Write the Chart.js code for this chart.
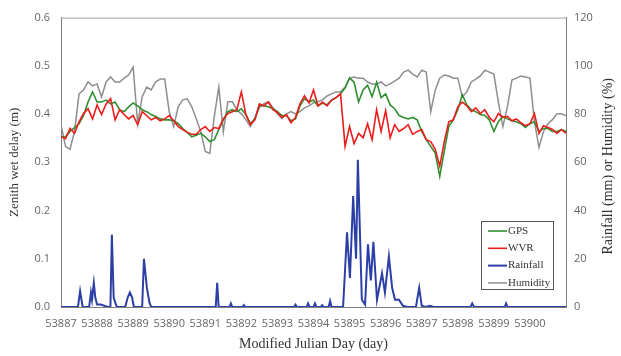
<!DOCTYPE html>
<html lang="en">
  <head>
    <meta charset="UTF-8" />
    <title>Zenith wet delay</title>
    <script src="https://cdn.jsdelivr.net/npm/chart.js@4.4.1/dist/chart.umd.min.js"></script>
    <style>
      body {
        margin: 0;
        background: #fff;
      }
      #wrap {
        width: 621px;
        height: 356px;
      }
    </style>
  </head>
  <body>
    <div id="wrap"><canvas id="myChart"></canvas></div>
    <script>
      // 3-hourly samples from MJD 53887 to 53901
      const startDay = 53887;
      const stepDay = 0.125;

      const gps = [
        0.353, 0.353, 0.364, 0.372, 0.380, 0.397, 0.425, 0.446, 0.425, 0.425,
        0.429, 0.421, 0.425, 0.409, 0.405, 0.415, 0.423, 0.417, 0.409, 0.405,
        0.399, 0.395, 0.390, 0.388, 0.388, 0.386, 0.380, 0.370, 0.362, 0.353,
        0.356, 0.360, 0.353, 0.343, 0.347, 0.368, 0.388, 0.405, 0.409, 0.405,
        0.411, 0.399, 0.380, 0.390, 0.419, 0.417, 0.415, 0.411, 0.405, 0.397,
        0.397, 0.386, 0.390, 0.417, 0.432, 0.425, 0.429, 0.417, 0.423, 0.419,
        0.429, 0.434, 0.442, 0.454, 0.475, 0.466, 0.425, 0.450, 0.460, 0.436,
        0.466, 0.434, 0.442, 0.419, 0.411, 0.397, 0.393, 0.390, 0.393, 0.388,
        0.364, 0.347, 0.333, 0.319, 0.271, 0.323, 0.374, 0.388, 0.409, 0.440,
        0.419, 0.409, 0.405, 0.399, 0.397, 0.388, 0.364, 0.384, 0.395, 0.390,
        0.386, 0.384, 0.380, 0.372, 0.380, 0.384, 0.364, 0.370, 0.370, 0.364,
        0.364, 0.368, 0.364
      ];

      const wvr = [
        0.353, 0.349, 0.370, 0.360, 0.384, 0.401, 0.411, 0.390, 0.419, 0.399,
        0.421, 0.432, 0.388, 0.409, 0.399, 0.390, 0.397, 0.378, 0.405, 0.397,
        0.388, 0.393, 0.386, 0.390, 0.397, 0.386, 0.374, 0.368, 0.362, 0.358,
        0.358, 0.368, 0.374, 0.364, 0.372, 0.370, 0.390, 0.401, 0.405, 0.409,
        0.446, 0.399, 0.378, 0.388, 0.421, 0.417, 0.425, 0.409, 0.403, 0.393,
        0.399, 0.382, 0.393, 0.421, 0.438, 0.423, 0.450, 0.417, 0.425, 0.417,
        0.429, 0.434, 0.442, 0.333, 0.374, 0.339, 0.360, 0.351, 0.380, 0.347,
        0.409, 0.364, 0.407, 0.351, 0.378, 0.364, 0.370, 0.378, 0.358, 0.364,
        0.368, 0.347, 0.343, 0.327, 0.292, 0.343, 0.384, 0.388, 0.415, 0.425,
        0.417, 0.405, 0.413, 0.401, 0.409, 0.393, 0.384, 0.401, 0.393, 0.395,
        0.386, 0.390, 0.382, 0.376, 0.380, 0.401, 0.360, 0.376, 0.372, 0.368,
        0.360, 0.368, 0.360
      ];

      const humidity = [
        75.6, 66.6, 65.4, 72.7, 88.4, 90.0, 93.3, 91.7, 92.5, 87.1,
        93.3, 95.4, 93.3, 93.3, 94.9, 96.2, 99.5, 76.0, 87.1, 91.2,
        90.0, 93.3, 94.5, 94.5, 81.0, 74.8, 83.0, 85.9, 86.3, 83.0,
        78.1, 72.7, 64.5, 63.7, 78.9, 91.2, 72.7, 85.1, 85.1, 81.8,
        80.1, 77.7, 74.8, 78.5, 82.6, 84.3, 85.1, 82.6, 80.1, 78.1,
        80.1, 81.0, 80.1, 81.0, 82.6, 83.4, 84.7, 85.1, 85.9, 87.5,
        88.4, 89.2, 89.2, 91.2, 94.9, 95.4, 94.9, 94.9, 93.3, 92.5,
        92.5, 93.3, 91.7, 92.5, 93.7, 94.9, 97.4, 98.2, 96.6, 95.4,
        98.2, 97.4, 81.0, 90.0, 94.9, 96.2, 95.8, 94.9, 94.9, 87.1,
        89.2, 93.3, 94.5, 95.8, 98.2, 97.4, 96.6, 85.1, 74.8, 83.0,
        94.1, 94.9, 95.8, 95.4, 94.9, 76.9, 66.2, 72.7, 76.0, 77.7,
        80.1, 80.1, 79.3
      ];

      // rainfall (mm), irregular times
      const rainDays = [
        53887.00, 53887.47, 53887.53, 53887.60, 53887.78, 53887.83, 53887.86,
        53887.91, 53887.95, 53888.00, 53888.10, 53888.20, 53888.30, 53888.37,
        53888.41, 53888.46, 53888.50, 53888.55, 53888.78, 53888.85, 53888.91,
        53888.97, 53889.02, 53889.25, 53889.30, 53889.38, 53889.45, 53889.50,
        53891.29, 53891.33, 53891.37, 53891.67, 53891.71, 53891.75, 53892.03,
        53892.07, 53892.11, 53893.46, 53893.50, 53893.54, 53893.81, 53893.85,
        53893.89, 53894.00, 53894.04, 53894.08, 53894.20, 53894.24, 53894.28,
        53894.42, 53894.46, 53894.50, 53894.82, 53894.93, 53895.01, 53895.10,
        53895.18, 53895.23, 53895.34, 53895.43, 53895.51, 53895.59, 53895.66,
        53895.76, 53895.90, 53895.98, 53896.09, 53896.18, 53896.26, 53896.37,
        53896.48, 53896.60, 53896.84, 53896.93, 53897.00, 53897.10, 53897.23,
        53897.33, 53898.35, 53898.40, 53898.45, 53899.30, 53899.34, 53899.38,
        53901.00
      ];
      const rainMm = [
        0, 0, 6.6, 0, 0, 6, 3,
        10, 4, 1, 1, 0.5, 0, 0,
        30, 4, 2, 0, 0, 4, 6,
        4, 0, 0, 20, 8, 2, 0,
        0, 10, 0, 0, 1.5, 0, 0,
        0.8, 0, 0, 1, 0, 0, 1.5,
        0, 0, 1.5, 0, 0, 0.8, 0,
        0, 2.5, 0, 0, 31, 12, 46,
        20, 61, 3, 1, 26, 11, 27,
        3, 14, 6, 21, 8, 3, 3,
        0.5, 0, 0, 8, 0.5, 0, 0.5,
        0, 0, 1.5, 0, 0, 1.5, 0,
        0
      ];

      const dayTicks = [53887, 53888, 53889, 53890, 53891, 53892, 53893,
        53894, 53895, 53896, 53897, 53898, 53899, 53900];

      const rightTitle = "Rainfall (mm) or Humidity (%)";

      const series = (vals) =>
        vals.map((v, i) => ({ x: startDay + i * stepDay, y: v }));
      const rainPts = rainDays.map((d, i) => ({ x: d, y: rainMm[i] }));

      const tickFont = { family: "'Open Sans', sans-serif", size: 11 };
      const titleFont = { family: "'Liberation Serif', serif", size: 14 };

      // top frame line, right title (reads upward) and legend box
      const framePlugin = {
        id: "frame",
        afterDraw(chart) {
          const { ctx, chartArea: a } = chart;
          ctx.save();
          ctx.strokeStyle = "#a0a0a0";
          ctx.lineWidth = 1;
          ctx.beginPath();
          ctx.moveTo(a.left, a.top + 0.5);
          ctx.lineTo(a.right, a.top + 0.5);
          ctx.stroke();

          ctx.save();
          ctx.translate(chart.width - 13, (a.top + a.bottom) / 2 + 4);
          ctx.rotate(-Math.PI / 2);
          ctx.font = "14px 'Liberation Serif', serif";
          ctx.fillStyle = "#333";
          ctx.textAlign = "center";
          ctx.textBaseline = "middle";
          ctx.fillText(rightTitle, 0, 0);
          ctx.restore();

          const bx = a.right - 85, by = a.bottom - 86, bw = 72, bh = 68;
          ctx.fillStyle = "#fff";
          ctx.fillRect(bx, by, bw, bh);
          ctx.strokeStyle = "#555";
          ctx.strokeRect(bx + 0.5, by + 0.5, bw, bh);
          ctx.font = "11px 'Liberation Serif', serif";
          ctx.textBaseline = "middle";
          chart.data.datasets.forEach((ds, j) => {
            const y = by + 10 + j * 17.3;
            ctx.strokeStyle = ds.borderColor;
            ctx.lineWidth = ds.borderWidth;
            ctx.beginPath();
            ctx.moveTo(bx + 7, y);
            ctx.lineTo(bx + 26, y);
            ctx.stroke();
            ctx.fillStyle = "#333";
            ctx.fillText(ds.label, bx + 27, y);
          });
          ctx.restore();
        }
      };

      const ctx = document.getElementById("myChart").getContext("2d");
      const chart = new Chart(ctx, {
        type: "line",
        data: {
          datasets: [
            {
              label: "GPS",
              data: series(gps),
              borderColor: "#2f8f2f",
              borderWidth: 1.6,
              yAxisID: "y",
              order: 1
            },
            {
              label: "WVR",
              data: series(wvr),
              borderColor: "#ee1c1c",
              borderWidth: 1.6,
              yAxisID: "y",
              order: 0
            },
            {
              label: "Rainfall",
              data: rainPts,
              borderColor: "#2b3fa6",
              borderWidth: 2,
              yAxisID: "y1",
              order: 2
            },
            {
              label: "Humidity",
              data: series(humidity),
              borderColor: "#8e8e8e",
              borderWidth: 1.5,
              yAxisID: "y1",
              order: 3
            }
          ]
        },
        options: {
          responsive: true,
          maintainAspectRatio: false,
          animation: false,
          layout: { padding: { top: 15, left: 0, right: 0, bottom: 0 } },
          elements: { point: { radius: 0 }, line: { tension: 0 } },
          plugins: { legend: { display: false }, tooltip: { enabled: false } },
          scales: {
            x: {
              type: "linear",
              min: 53887,
              max: 53901,
              afterBuildTicks: (s) => {
                s.ticks = dayTicks.map((v) => ({ value: v }));
              },
              afterFit: (s) => {
                s.height = 49;
              },
              grid: { display: false, drawTicks: false },
              border: { color: "#808080" },
              ticks: {
                color: "#666",
                font: tickFont,
                padding: 10,
                maxRotation: 0,
                autoSkip: false,
                callback: (v) => String(v)
              },
              title: {
                display: true,
                text: "Modified Julian Day (day)",
                color: "#333",
                font: titleFont,
                padding: { top: 0, bottom: 3 }
              }
            },
            y: {
              position: "left",
              min: 0,
              max: 0.6,
              afterFit: (s) => {
                s.width = 61;
              },
              grid: { display: false, drawTicks: false },
              border: { color: "#808080" },
              ticks: {
                stepSize: 0.1,
                color: "#666",
                font: tickFont,
                padding: 11,
                callback: (v) => v.toFixed(1)
              },
              title: {
                display: true,
                text: "Zenith wet delay (m)",
                color: "#333",
                font: { family: "'Liberation Serif', serif", size: 13 },
                padding: { top: 7, bottom: 0 }
              }
            },
            y1: {
              position: "right",
              min: 0,
              max: 120,
              afterFit: (s) => {
                s.width = 55;
              },
              grid: { display: false, drawTicks: false },
              border: { color: "#808080" },
              ticks: {
                stepSize: 20,
                color: "#666",
                font: tickFont,
                padding: 8
              },
              title: { display: false }
            }
          }
        },
        plugins: [framePlugin]
      });
    </script>
  </body>
</html>
